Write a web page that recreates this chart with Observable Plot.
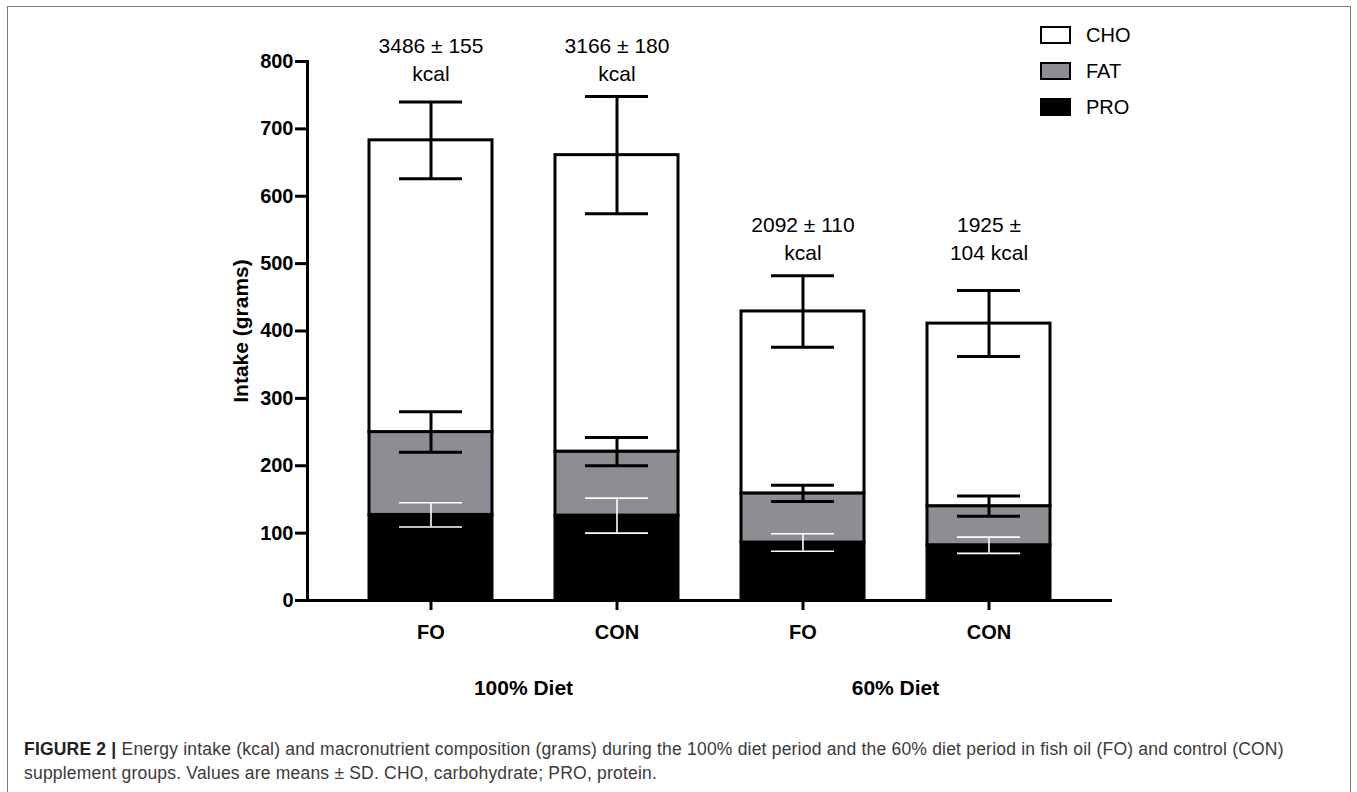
<!DOCTYPE html>
<html>
<head>
<meta charset="utf-8">
<script src="https://cdn.jsdelivr.net/npm/d3@7"></script>
<script src="https://cdn.jsdelivr.net/npm/@observablehq/plot@0.6"></script>
<style>
  html, body { margin: 0; padding: 0; background: #fff; }
  #wrap { position: relative; width: 1357px; height: 792px; overflow: hidden; background: #fff; font-family: "Liberation Sans", Arial, sans-serif; }
  #frame { position: absolute; left: 7px; top: 6px; width: 1344px; height: 900px; border: 1.5px solid #7a7a7a; box-sizing: border-box; }
  #chart { position: absolute; left: 0; top: 0; }
  #legend { position: absolute; left: 1040px; top: 0; }
  .item { position: absolute; left: 0; width: 140px; height: 24px; }
  .sw { position: absolute; left: 0; top: 3px; width: 31px; height: 18px; border: 2px solid #000; box-sizing: border-box; }
  .lab { position: absolute; left: 46px; top: 0; font-size: 20px; line-height: 24px; color: #000; }
  #caption { position: absolute; left: 24px; top: 737px; font-size: 17.5px; letter-spacing: 0.2px; line-height: 24px; color: #3a3a3a; white-space: nowrap; }
  #caption b { color: #222; }
</style>
</head>
<body>
<div id="wrap">
  <div id="frame"></div>
  <div id="chart"></div>
  <div id="legend"></div>
  <div id="caption"><b>FIGURE 2 |</b> Energy intake (kcal) and macronutrient composition (grams) during the 100% diet period and the 60% diet period in fish oil (FO) and control (CON)<br>supplement groups. Values are means ± SD. CHO, carbohydrate; PRO, protein.</div>
</div>
<script>
// ---- data ----
const bars = [0, 1, 2, 3];
const supplement = ["FO", "CON", "FO", "CON"];
const diet = ["100% Diet", "100% Diet", "60% Diet", "60% Diet"];
const proMean = [127, 126, 86, 82];
const proSD = [18, 26, 13, 12];
const fatMean = [123, 95, 73, 58];
const fatSD = [30, 21, 12, 15];
const choMean = [433, 440, 270, 271];
const choSD = [57, 87, 53, 49];
const kcalLabels = ["3486 ± 155\nkcal", "3166 ± 180\nkcal", "2092 ± 110\nkcal", "1925 ±\n104 kcal"];
const nutrients = ["PRO", "FAT", "CHO"];
const nutrientColors = ["#000000", "#8e8d92", "#ffffff"];
const legendOrder = ["CHO", "FAT", "PRO"];
const yTicks = [0, 100, 200, 300, 400, 500, 600, 700, 800];
const dietGroups = ["100% Diet", "60% Diet"];
const yLabel = "Intake (grams)";

// ---- derived tables ----
const means = [proMean, fatMean, choMean];
const sds = [proSD, fatSD, choSD];
const segments = [];
const errors = [];
for (const i of bars) {
  let base = 0;
  nutrients.forEach((n, k) => {
    const top = base + means[k][i];
    segments.push({bar: i, nutrient: n, y1: base, y2: top});
    errors.push({bar: i, nutrient: n, mean: top, lo: top - sds[k][i], hi: top + sds[k][i], white: n === "PRO"});
    base = top;
  });
}
const groupTop = {};
for (const i of bars) {
  const hi = proMean[i] + fatMean[i] + choMean[i] + choSD[i];
  groupTop[diet[i]] = Math.max(groupTop[diet[i]] ?? 0, hi);
}
const annotations = bars.map(i => ({bar: i, y: groupTop[diet[i]], text: kcalLabels[i]}));
const groups = dietGroups.map(g => {
  const members = bars.filter(i => diet[i] === g);
  return {label: g, first: members[0], last: members[members.length - 1]};
});

const blackErr = errors.filter(d => !d.white);
const whiteErr = errors.filter(d => d.white);

const chart = Plot.plot({
  width: 1357,
  height: 720,
  marginLeft: 307,
  marginRight: 245,
  marginTop: 61,
  marginBottom: 120,
  style: {fontFamily: "'Liberation Sans', Arial, sans-serif", background: "transparent", color: "#000", overflow: "visible"},
  x: {type: "band", domain: bars, paddingInner: 0.34, paddingOuter: 0.33},
  y: {domain: [0, 800]},
  color: {domain: nutrients, range: nutrientColors},
  marks: [
    Plot.barY(segments, {x: "bar", y1: "y1", y2: "y2", fill: "nutrient", stroke: "#000", strokeWidth: 3}),
    // error bars
    Plot.ruleX(blackErr, {x: "bar", y1: "lo", y2: "hi", stroke: "#000", strokeWidth: 3}),
    Plot.tickY(blackErr, {x: "bar", y: "lo", stroke: "#000", strokeWidth: 3, insetLeft: 30, insetRight: 30}),
    Plot.tickY(blackErr, {x: "bar", y: "hi", stroke: "#000", strokeWidth: 3, insetLeft: 30, insetRight: 30}),
    Plot.ruleX(whiteErr, {x: "bar", y1: "lo", y2: "hi", stroke: "#fff", strokeWidth: 1.6}),
    Plot.tickY(whiteErr, {x: "bar", y: "lo", stroke: "#fff", strokeWidth: 1.6, insetLeft: 30, insetRight: 30}),
    Plot.tickY(whiteErr, {x: "bar", y: "hi", stroke: "#fff", strokeWidth: 1.6, insetLeft: 30, insetRight: 30}),
    // axes
    Plot.frame({anchor: "left", strokeWidth: 3}),
    Plot.ruleY([0], {strokeWidth: 3}),
    Plot.axisY({ticks: yTicks, tickSize: 12, tickPadding: 2, strokeWidth: 3, fontSize: 20, fontWeight: "bold", label: null}),
    Plot.axisX({tickSize: 10, tickPadding: 14, strokeWidth: 3, fontSize: 20, fontWeight: "bold", label: null, tickFormat: i => supplement[i]}),
    Plot.text([yLabel], {frameAnchor: "left", textAnchor: "middle", rotate: -90, dx: -66, text: d => d, fontSize: 21, fontWeight: "bold"}),
    // kcal annotations
    Plot.text(annotations, {x: "bar", y: "y", text: "text", lineAnchor: "bottom", lineHeight: 1.33, dy: -16, fontSize: 21}),
    // diet group labels centered under their pair of bars
    Plot.text(groups, {
      x: "first", text: "label", fontSize: 21, fontWeight: "bold",
      render(index, scales, values, dim) {
        const x = scales.x, bw = x.bandwidth();
        const g = d3.create("svg:g")
          .attr("font-size", 21).attr("font-weight", "bold").attr("text-anchor", "middle");
        for (const i of index) {
          const d = groups[i];
          g.append("text")
            .attr("x", (x(d.first) + x(d.last) + bw) / 2)
            .attr("y", dim.height - dim.marginBottom + 88)
            .attr("dy", "0.35em")
            .attr("fill", "#000")
            .text(d.label);
        }
        return g.node();
      }
    })
  ]
});
document.getElementById("chart").appendChild(chart);

// legend (HTML) from nutrient arrays
const legend = document.getElementById("legend");
legendOrder.forEach((n, k) => {
  const item = document.createElement("div");
  item.className = "item";
  item.style.top = (23 + k * 36) + "px";
  const sw = document.createElement("div");
  sw.className = "sw";
  sw.style.background = nutrientColors[nutrients.indexOf(n)];
  const lab = document.createElement("div");
  lab.className = "lab";
  lab.textContent = n;
  item.appendChild(sw); item.appendChild(lab);
  legend.appendChild(item);
});
</script>
</body>
</html>
